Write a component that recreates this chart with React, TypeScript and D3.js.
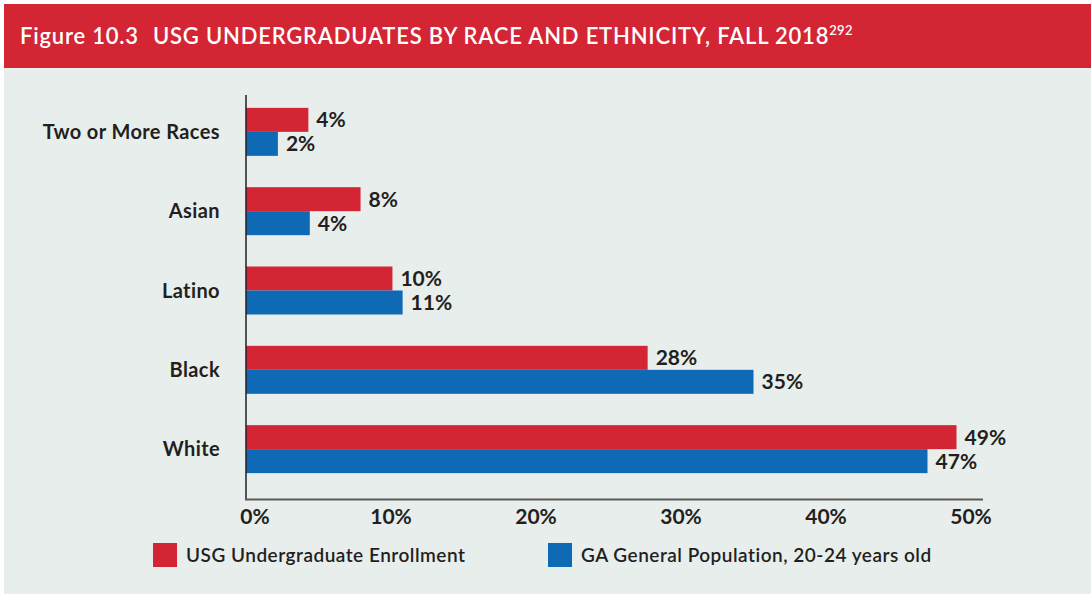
import React from "react";
import * as d3 from "d3";

const categories = ["Two or More Races", "Asian", "Latino", "Black", "White"];
const usgEnrollment = [4.3, 7.9, 10.1, 27.7, 49.0];
const gaPopulation = [2.2, 4.4, 10.8, 35.0, 47.0];
const xTicks = [0, 10, 20, 30, 40, 50];
const seriesNames = ["USG Undergraduate Enrollment", "GA General Population, 20-24 years old"];

const RED = "#d42535";
const BLUE = "#0e6ab4";
const BG = "#e8eeec";
const INK = "#231f20";
const FONT = "Lato, 'Open Sans', sans-serif";

const W = 1091;
const H = 595;

export default function App() {
  const x = d3.scaleLinear().domain([0, 50]).range([246, 971]);
  const y = d3.scaleBand().domain(categories).range([92, 489]).paddingInner(0.395).paddingOuter(0.2);
  const inner = d3.scaleBand().domain(["usg", "ga"]).range([0, y.bandwidth()]);

  const series = [
    { key: "usg", values: usgEnrollment, color: RED },
    { key: "ga", values: gaPopulation, color: BLUE },
  ];

  return (
    <div style={{ position: "absolute", left: 0, top: 0 }}>
      <svg width={W} height={H} style={{ display: "block", fontFamily: FONT }}>
        <rect x={4} y={4} width={W - 4} height={590} fill={BG} />
        <rect x={4} y={4} width={W - 4} height={64} fill={RED} />
        <text x={20} y={44} fill="#fff" fontSize={22} fontWeight={600} letterSpacing={0.8}>
          <tspan>Figure 10.3</tspan>
          <tspan dx={14}>USG UNDERGRADUATES BY RACE AND ETHNICITY, FALL 2018</tspan>
          <tspan fontSize={13} dy={-9} letterSpacing={0.3}>292</tspan>
        </text>

        {series.map((s) =>
          categories.map((c, i) => {
            const v = s.values[i];
            const by = (y(c) ?? 0) + (inner(s.key) ?? 0);
            return (
              <g key={s.key + c}>
                <rect x={x(0)} y={by} width={x(v) - x(0)} height={inner.bandwidth()} fill={s.color} />
                <text
                  x={x(v) + 8}
                  y={by + inner.bandwidth() / 2}
                  dy="0.36em"
                  fontSize={21}
                  fontWeight={700}
                  fill={INK}
                >
                  {Math.round(v)}%
                </text>
              </g>
            );
          })
        )}

        {categories.map((c) => (
          <text
            key={c}
            x={220}
            y={(y(c) ?? 0) + y.bandwidth() / 2}
            dy="0.36em"
            textAnchor="end"
            fontSize={20}
            fontWeight={700}
            fill={INK}
            letterSpacing={0.4}
          >
            {c}
          </text>
        ))}

        <line x1={x(0)} x2={x(0)} y1={95} y2={500} stroke={INK} strokeWidth={1.5} />
        <line x1={x(0) - 1} x2={983} y1={499.5} y2={499.5} stroke="#5a5a5a" strokeWidth={2} />

        {xTicks.map((t) => (
          <text
            key={t}
            x={x(t) + (t === 0 ? 9 : 0)}
            y={524}
            textAnchor="middle"
            fontSize={21}
            fontWeight={700}
            fill={INK}
          >
            {t}%
          </text>
        ))}

        {seriesNames.map((name, i) => {
          const lx = i === 0 ? 153 : 548;
          return (
            <g key={name} transform={`translate(${lx},543)`}>
              <rect width={24} height={24} fill={i === 0 ? RED : BLUE} />
              <text x={33} y={12} dy="0.36em" fontSize={19} fontWeight={600} fill={INK} letterSpacing={0.5}>
                {name}
              </text>
            </g>
          );
        })}
      </svg>
    </div>
  );
}
